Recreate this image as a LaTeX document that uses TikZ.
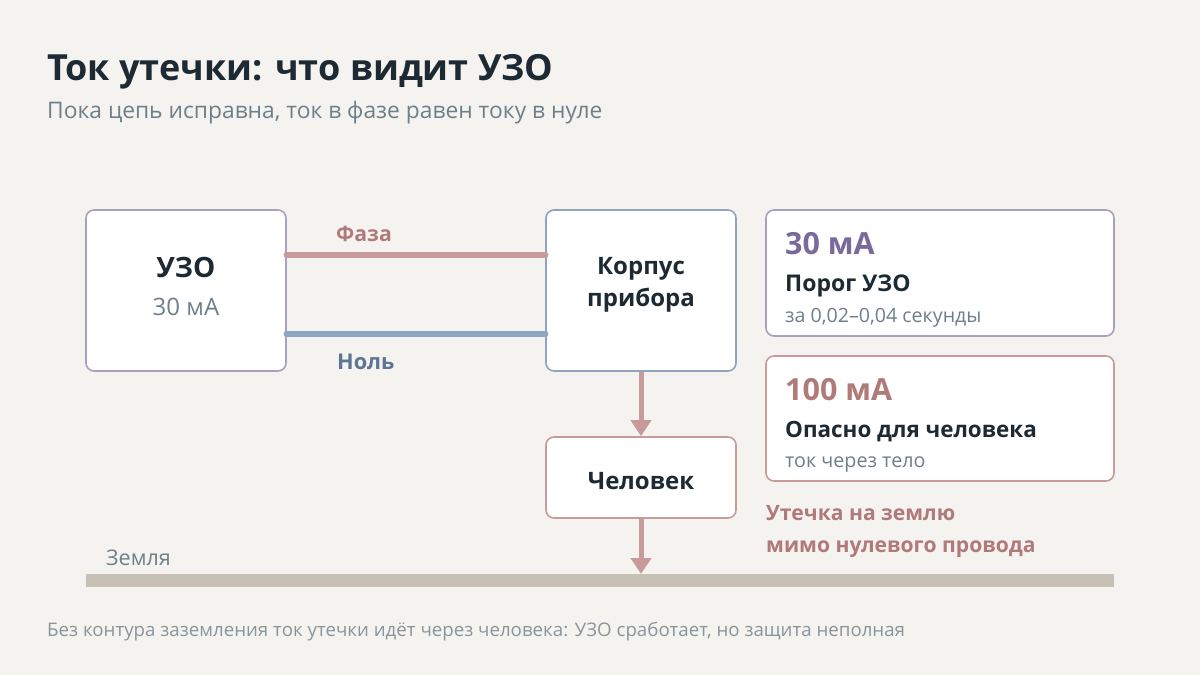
\documentclass[tikz,border=0pt]{standalone}
\usepackage{fontspec}
\setmainfont{Open Sans}
\usetikzlibrary{arrows.meta}
\definecolor{bg}{HTML}{F5F3F0}
\definecolor{dark}{HTML}{1E2A33}
\definecolor{subgray}{HTML}{6E7F8A}
\definecolor{footgray}{HTML}{8A949B}
\definecolor{phaseline}{HTML}{C89A9A}
\definecolor{phasetext}{HTML}{B07A7A}
\definecolor{nullline}{HTML}{8EA6C0}
\definecolor{nulltext}{HTML}{5B7593}
\definecolor{uzoborder}{HTML}{A8A0BE}
\definecolor{korpborder}{HTML}{8FA5BE}
\definecolor{purpletext}{HTML}{7A6A9C}
\definecolor{groundc}{HTML}{C8C0B3}
\tikzset{
  box/.style={draw, fill=white, rounded corners=8pt, line width=1.6pt, inner sep=0pt},
  fs/.style={font=\fontsize{#1}{#1}\selectfont},
  fb/.style={font=\bfseries\fontsize{#1}{#1}\selectfont},
  wire/.style={line width=6.5pt, line cap=round},
  flow/.style={draw=phaseline, line width=5pt, -{Triangle[length=16pt,width=20pt]}},
  txt/.style={inner sep=0pt, anchor=base west},
  ctxt/.style={inner sep=0pt, anchor=base},
}
\begin{document}
\begin{tikzpicture}[x=1pt,y=-1pt]
\fill[bg] (0,0) rectangle (1200,675);
\useasboundingbox (0,0) rectangle (1200,675);

% title
\node[txt, fb=36, text=dark] (title) at (47,80) {Ток утечки: что видит УЗО};
\node[txt, fs=22.8, text=subgray] (subtitle) at (47,118) {Пока цепь исправна, ток в фазе равен току в нуле};

% boxes
\node[box, draw=uzoborder, minimum width=200pt, minimum height=161pt] (uzo) at (186,290.5) {};
\node[box, draw=korpborder, minimum width=190pt, minimum height=161pt] (korp) at (641,290.5) {};
\node[box, draw=phaseline, minimum width=190pt, minimum height=81pt] (man) at (641,477.5) {};

\node[ctxt, fb=28, text=dark] (uzot) at (186,277) {УЗО};
\node[ctxt, fs=24, text=subgray] (uzov) at (186,315) {30 мА};
\node[ctxt, fb=24, text=dark] (korp1) at (641,274) {Корпус};
\node[ctxt, fb=24, text=dark] (korp2) at (641,306) {прибора};
\node[ctxt, fb=24, text=dark] (mant) at (641,489) {Человек};

% wires
\coordinate (pa) at (uzo.east |- 0,255);
\coordinate (pb) at (korp.west |- 0,255);
\coordinate (na) at (uzo.east |- 0,334);
\coordinate (nb) at (korp.west |- 0,334);
\draw[wire, draw=phaseline] (pa) -- (pb);
\draw[wire, draw=nullline] (na) -- (nb);
\node[txt, fb=21.2, text=phasetext] (phl) at (336,241) {Фаза};
\node[txt, fb=21.7, text=nulltext] (nul) at (337,369) {Ноль};

% ground
\fill[groundc] (86,574) rectangle (1114,587);
\coordinate (gnd) at (641,574);
\node[txt, fs=21.5, text=subgray] (zeml) at (106,565) {Земля};

% flow arrows
\draw[flow] (korp.south) -- (man.north);
\draw[flow] (man.south) -- (gnd);

% cards
\node[box, draw=uzoborder, minimum width=348pt, minimum height=126pt] (card1) at (940,273) {};
\node[txt, fb=30.5, text=purpletext] (c1a) at (785,254) {30 мА};
\node[txt, fb=23, text=dark] (c1b) at (785,291) {Порог УЗО};
\node[txt, fs=19.6, text=subgray] (c1c) at (785,322) {за 0,02–0,04 секунды};

\node[box, draw=phaseline, minimum width=348pt, minimum height=125pt] (card2) at (940,418.5) {};
\node[txt, fb=30.5, text=phasetext] (c2a) at (785,400) {100 мА};
\node[txt, fb=22.4, text=dark] (c2b) at (785,437) {Опасно для человека};
\node[txt, fs=19.7, text=subgray] (c2c) at (785,467) {ток через тело};

\node[txt, fb=21.1, text=phasetext] (leak1) at (766,520) {Утечка на землю};
\node[txt, fb=21.1, text=phasetext] (leak2) at (766,552) {мимо нулевого провода};

\node[txt, fs=18.7, text=footgray] (foot) at (47,636) {Без контура заземления ток утечки идёт через человека: УЗО сработает, но защита неполная};
\end{tikzpicture}
\end{document}
